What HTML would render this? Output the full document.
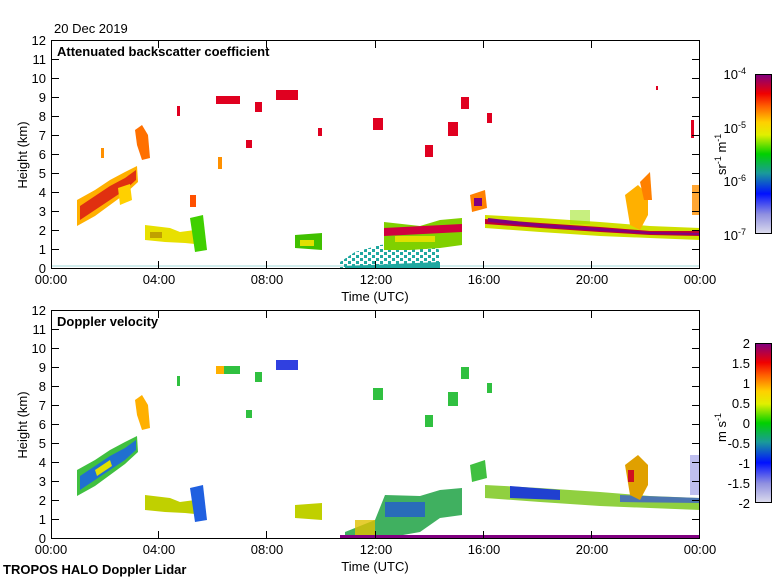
<!DOCTYPE html>
<html><head><meta charset="utf-8"><style>
body{margin:0;background:#fff;}
svg text{font-family:"Liberation Sans",sans-serif;font-size:13px;fill:#000;}
.t{font-weight:bold;}
</style></head><body>
<svg width="780" height="580" viewBox="0 0 780 580" xmlns="http://www.w3.org/2000/svg">
<defs>
<linearGradient id="cb1" x1="0" y1="1" x2="0" y2="0">
<stop offset="0" stop-color="#dcdcec"/><stop offset="0.12" stop-color="#9090e0"/><stop offset="0.25" stop-color="#0010ff"/><stop offset="0.38" stop-color="#1a9a9a"/><stop offset="0.5" stop-color="#00d000"/><stop offset="0.62" stop-color="#e0f000"/><stop offset="0.7" stop-color="#ffd000"/><stop offset="0.8" stop-color="#ff6000"/><stop offset="0.88" stop-color="#f00000"/><stop offset="1" stop-color="#800080"/>
</linearGradient>
<pattern id="noise" width="8" height="6" patternUnits="userSpaceOnUse">
<rect x="0" y="0" width="3" height="3" fill="#20a8a0"/><rect x="4" y="3" width="3" height="3" fill="#20a8a0"/>
</pattern>
</defs>
<text x="54" y="33">20 Dec 2019</text>

<!-- TOP PANEL DATA -->
<g>
<rect x="51" y="265" width="649" height="2" fill="#1aa0a0" opacity="0.2"/>
<polygon points="77,200 95,190 110,180 125,172 137,166 138,182 125,194 110,205 95,216 77,226" fill="#ffb000"/>
<polygon points="80,206 95,196 110,186 125,178 136,170 136,180 125,190 110,200 95,210 80,220" fill="#e03010"/>
<polygon points="118,188 130,184 132,200 120,205" fill="#ffd000"/>
<polygon points="135,130 142,125 148,135 150,158 142,160 137,145" fill="#ff7000"/>
<polygon points="145,225 170,228 180,232 195,230 205,235 205,245 185,243 165,242 145,240" fill="#e8e000"/>
<rect x="150" y="232" width="12" height="6" fill="#c0a000"/>
<polygon points="190,218 203,215 207,250 195,252" fill="#40d000"/>
<rect x="190" y="195" width="6" height="12" fill="#ff5000"/>
<g fill="#e00020">
<rect x="177" y="106" width="3" height="10"/><rect x="216" y="96" width="24" height="8"/><rect x="246" y="140" width="6" height="8"/><rect x="255" y="102" width="7" height="10"/><rect x="276" y="90" width="22" height="10"/><rect x="318" y="128" width="4" height="8"/><rect x="373" y="118" width="10" height="12"/><rect x="425" y="145" width="8" height="12"/><rect x="448" y="122" width="10" height="14"/><rect x="461" y="97" width="8" height="12"/><rect x="487" y="113" width="5" height="10"/><rect x="656" y="86" width="2" height="4"/><rect x="691" y="120" width="3" height="18"/>
</g>
<rect x="218" y="157" width="4" height="12" fill="#ff9000"/>
<rect x="101" y="148" width="3" height="10" fill="#ff9000"/>
<polygon points="295,235 322,233 322,250 295,248" fill="#40c000"/>
<rect x="300" y="240" width="14" height="6" fill="#e0e000"/>
<polygon points="340,262 355,252 380,245 420,242 440,250 440,269 340,269" fill="url(#noise)"/>
<polygon points="345,266 440,262 440,269 345,269" fill="#20a8a0"/>
<polygon points="384,222 420,226 440,220 462,218 462,245 440,248 410,250 384,250" fill="#80d000"/>
<polygon points="384,228 462,224 462,232 384,236" fill="#d00040"/>
<rect x="395" y="236" width="40" height="6" fill="#e0e000"/>
<polygon points="470,195 485,190 487,208 472,212" fill="#ff8000"/>
<rect x="474" y="198" width="8" height="8" fill="#800080"/>
<polygon points="485,215 540,218 600,222 650,226 700,228 700,240 650,238 600,236 540,232 485,228" fill="#d0e000"/>
<polygon points="485,219 540,223 600,227 650,231 700,231 700,236 650,235 600,232 540,228 485,224" fill="#c00030"/>
<polygon points="488,218 540,224 600,228 650,232 700,233 700,235 650,234 600,231 540,227 488,222" fill="#800080"/>
<polygon points="625,195 638,185 648,195 648,215 640,230 630,225" fill="#ffb000"/>
<polygon points="640,182 650,172 652,200 644,200" fill="#ff8000"/>
<rect x="692" y="185" width="8" height="30" fill="#ff9000" opacity="0.8"/>
<rect x="570" y="210" width="20" height="14" fill="#90e000" opacity="0.5"/>
</g>

<!-- BOTTOM PANEL DATA -->
<g transform="translate(0,270)">
<polygon points="77,200 95,190 110,180 125,172 137,166 138,182 125,194 110,205 95,216 77,226" fill="#40c040"/>
<polygon points="80,206 95,196 110,186 125,178 136,170 136,180 125,190 110,200 95,210 80,220" fill="#2070d0"/>
<polygon points="95,200 110,190 112,196 97,206" fill="#e0e000"/>
<polygon points="135,130 142,125 148,135 150,158 142,160 137,145" fill="#ffb000"/>
<polygon points="145,225 170,228 180,232 195,230 205,235 205,245 185,243 165,242 145,240" fill="#c0d000"/>
<polygon points="190,218 203,215 207,250 195,252" fill="#2060e0"/>
<g fill="#30c040">
<rect x="177" y="106" width="3" height="10"/><rect x="216" y="96" width="24" height="8"/><rect x="246" y="140" width="6" height="8"/><rect x="255" y="102" width="7" height="10"/><rect x="373" y="118" width="10" height="12"/><rect x="425" y="145" width="8" height="12"/><rect x="448" y="122" width="10" height="14"/><rect x="461" y="97" width="8" height="12"/><rect x="487" y="113" width="5" height="10"/>
</g>
<rect x="276" y="90" width="22" height="10" fill="#3040e0"/>
<rect x="216" y="96" width="8" height="8" fill="#ffb000"/>
<polygon points="295,235 322,233 322,250 295,248" fill="#c0d000"/>
<polygon points="345,262 375,250 385,225 420,226 440,220 462,218 462,245 440,248 420,262 380,269 345,269" fill="#40b060"/>
<rect x="385" y="232" width="40" height="15" fill="#2050e0" opacity="0.7"/>
<rect x="355" y="250" width="20" height="15" fill="#e0c000" opacity="0.8"/>
<polygon points="470,195 485,190 487,208 472,212" fill="#40c040"/>
<polygon points="485,215 540,218 600,222 650,226 700,228 700,240 650,238 600,236 540,232 485,228" fill="#90d040"/>
<polygon points="510,216 560,220 560,230 510,228" fill="#2040d0"/>
<polygon points="620,225 700,228 700,233 620,232" fill="#3050e0" opacity="0.7"/>
<polygon points="625,195 638,185 648,195 648,215 640,230 630,225" fill="#e0a000"/>
<rect x="628" y="200" width="6" height="12" fill="#d01020"/>
<rect x="690" y="185" width="10" height="40" fill="#8080e0" opacity="0.5"/>
<rect x="340" y="265" width="360" height="4" fill="#800080"/>
</g>

<!-- AXES -->
<g stroke="#000" stroke-width="1" fill="none">
<rect x="51.5" y="40.5" width="648" height="228"/>
<rect x="51.5" y="310.5" width="648" height="228"/>
</g>
<g stroke="#000" stroke-width="1">
<path d="M51 40.5h8M51 59.5h8M51 78.5h8M51 97.5h8M51 116.5h8M51 135.5h8M51 154.5h8M51 173.5h8M51 192.5h8M51 211.5h8M51 230.5h8M51 249.5h8
M700 59.5h-8M700 78.5h-8M700 97.5h-8M700 116.5h-8M700 135.5h-8M700 154.5h-8M700 173.5h-8M700 192.5h-8M700 211.5h-8M700 230.5h-8M700 249.5h-8
M158.5 269v-8M266.5 269v-8M375.5 269v-8M483.5 269v-8M591.5 269v-8M158.5 40v8M266.5 40v8M375.5 40v8M483.5 40v8M591.5 40v8"/>
<path transform="translate(0,270)" d="M51 40.5h8M51 59.5h8M51 78.5h8M51 97.5h8M51 116.5h8M51 135.5h8M51 154.5h8M51 173.5h8M51 192.5h8M51 211.5h8M51 230.5h8M51 249.5h8
M700 59.5h-8M700 78.5h-8M700 97.5h-8M700 116.5h-8M700 135.5h-8M700 154.5h-8M700 173.5h-8M700 192.5h-8M700 211.5h-8M700 230.5h-8M700 249.5h-8
M158.5 269v-8M266.5 269v-8M375.5 269v-8M483.5 269v-8M591.5 269v-8M158.5 40v8M266.5 40v8M375.5 40v8M483.5 40v8M591.5 40v8"/>
</g>
<g text-anchor="end">
<text x="46" y="45">12</text><text x="46" y="64">11</text><text x="46" y="83">10</text><text x="46" y="102">9</text><text x="46" y="121">8</text><text x="46" y="140">7</text><text x="46" y="159">6</text><text x="46" y="178">5</text><text x="46" y="197">4</text><text x="46" y="216">3</text><text x="46" y="235">2</text><text x="46" y="254">1</text><text x="46" y="273">0</text>
<text x="46" y="315">12</text><text x="46" y="334">11</text><text x="46" y="353">10</text><text x="46" y="372">9</text><text x="46" y="391">8</text><text x="46" y="410">7</text><text x="46" y="429">6</text><text x="46" y="448">5</text><text x="46" y="467">4</text><text x="46" y="486">3</text><text x="46" y="505">2</text><text x="46" y="524">1</text><text x="46" y="543">0</text>
</g>
<g text-anchor="middle">
<text x="51" y="284">00:00</text><text x="159" y="284">04:00</text><text x="267" y="284">08:00</text><text x="376" y="284">12:00</text><text x="484" y="284">16:00</text><text x="592" y="284">20:00</text><text x="700" y="284">00:00</text>
<text x="375" y="301">Time (UTC)</text>
<text x="51" y="554">00:00</text><text x="159" y="554">04:00</text><text x="267" y="554">08:00</text><text x="376" y="554">12:00</text><text x="484" y="554">16:00</text><text x="592" y="554">20:00</text><text x="700" y="554">00:00</text>
<text x="375" y="571">Time (UTC)</text>
<text x="27" y="155" transform="rotate(-90 27 155)">Height (km)</text>
<text x="27" y="425" transform="rotate(-90 27 425)">Height (km)</text>
</g>
<text class="t" x="57" y="56">Attenuated backscatter coefficient</text>
<text class="t" x="57" y="326">Doppler velocity</text>
<text class="t" x="3" y="574">TROPOS HALO Doppler Lidar</text>

<rect x="755.5" y="74.5" width="16" height="159" fill="url(#cb1)" stroke="#000"/>
<rect x="755.5" y="343.5" width="16" height="159" fill="url(#cb1)" stroke="#000"/>
<g text-anchor="end">
<text x="746" y="79">10<tspan dy="-5" font-size="9">-4</tspan></text>
<text x="746" y="133">10<tspan dy="-5" font-size="9">-5</tspan></text>
<text x="746" y="186">10<tspan dy="-5" font-size="9">-6</tspan></text>
<text x="746" y="240">10<tspan dy="-5" font-size="9">-7</tspan></text>
<text x="750" y="348">2</text><text x="750" y="368">1.5</text><text x="750" y="388">1</text><text x="750" y="408">0.5</text><text x="750" y="428">0</text><text x="750" y="448">-0.5</text><text x="750" y="468">-1</text><text x="750" y="488">-1.5</text><text x="750" y="508">-2</text>
</g>
<text x="0" y="0" transform="translate(726 175) rotate(-90)">sr<tspan dy="-5" font-size="9">-1</tspan><tspan dy="5"> m</tspan><tspan dy="-5" font-size="9">-1</tspan></text>
<text x="0" y="0" transform="translate(726 442) rotate(-90)">m s<tspan dy="-5" font-size="9">-1</tspan></text>
</svg>
</body></html>
